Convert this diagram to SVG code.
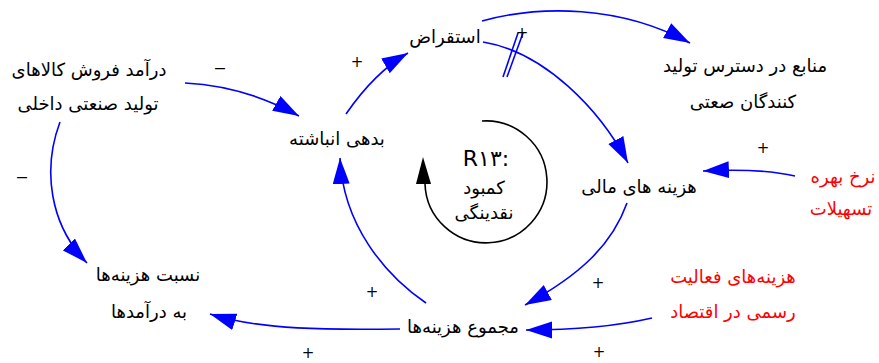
<svg xmlns="http://www.w3.org/2000/svg" width="879" height="363" viewBox="0 0 879 363">
<style>
text{font-family:"DejaVu Sans","Noto Sans",sans-serif;font-size:18px;fill:#000;text-anchor:middle}
.red{fill:#ff0000}
.sign{font-size:15px}
.minus{font-family:"Liberation Sans",sans-serif;font-size:18px}
.link{fill:none;stroke:#0000ff;stroke-width:1.6}
</style>
<defs>
<marker id="ah" markerUnits="userSpaceOnUse" markerWidth="27" markerHeight="18" refX="26" refY="8.5" orient="auto">
<path d="M0,0 L26,8.5 L0,17 z" fill="#0000ff"/>
</marker>
</defs>
<rect width="879" height="363" fill="#fff"/>
<g id="connectors">
<path class="link" d="M185,83 Q245,86 299,116" marker-end="url(#ah)"/>
<path class="link" d="M60,122 C42,170 50,225 87,263" marker-end="url(#ah)"/>
<path class="link" d="M346,114 Q375,72 408,53" marker-end="url(#ah)"/>
<path class="link" d="M482,21 C540,5 620,5 690,43" marker-end="url(#ah)"/>
<path class="link" d="M483,42 C545,52 600,110 628,163" marker-end="url(#ah)"/>
<line x1="503" y1="77" x2="518" y2="33" stroke="#0000ff" stroke-width="1.6"/>
<line x1="507" y1="77" x2="523" y2="33" stroke="#0000ff" stroke-width="1.6"/>
<path class="link" d="M795,176 Q760,168 703,171" marker-end="url(#ah)"/>
<path class="link" d="M627,203 C612,245 580,275 525,305" marker-end="url(#ah)"/>
<path class="link" d="M652,318 Q600,330 526,330" marker-end="url(#ah)"/>
<path class="link" d="M426,303 C385,275 343,225 340,158" marker-end="url(#ah)"/>
<path class="link" d="M400,329 C330,330 260,330 210,314" marker-end="url(#ah)"/>
<text class="minus" x="220" y="73">–</text>
<text class="minus" x="22" y="182">–</text>
<text class="sign" x="357" y="67">+</text>
<text class="sign" x="522" y="38">+</text>
<text class="sign" x="763" y="153">+</text>
<text class="sign" x="598" y="288">+</text>
<text class="sign" x="599" y="357">+</text>
<text class="sign" x="372" y="297">+</text>
<text class="sign" x="308" y="358">+</text>
</g>
<g id="loop">
<path d="M482,121 A61,61 0 1 1 425,184" fill="none" stroke="#000" stroke-width="1.6"/>
<polygon points="423,157 416,184 431,184" fill="#000"/>
<text x="486" y="166" style="font-size:22px">R۱۳:</text>
<text x="484" y="194">کمبود</text>
<text x="484" y="219">نقدینگی</text>
</g>
<g id="n-revenue">
<text x="89" y="76">درآمد فروش کالاهای</text>
<text x="88" y="110">تولید صنعتی داخلی</text>
</g>
<g id="n-debt"><text x="337" y="145">بدهی انباشته</text></g>
<g id="n-borrow"><text x="445" y="43">استقراض</text></g>
<g id="n-resources">
<text x="745" y="72">منابع در دسترس تولید</text>
<text x="743" y="108">کنندگان صعتی</text>
</g>
<g id="n-fincost"><text x="639" y="193">هزینه های مالی</text></g>
<g id="n-interest">
<text class="red" x="843" y="183">نرخ بهره</text>
<text class="red" x="841" y="215">تسهیلات</text>
</g>
<g id="n-ratio">
<text x="148" y="281">نسبت هزینه‌ها</text>
<text x="149" y="318">به درآمدها</text>
</g>
<g id="n-total"><text x="463" y="333">مجموع هزینه‌ها</text></g>
<g id="n-formal">
<text class="red" x="733" y="283">هزینه‌های فعالیت</text>
<text class="red" x="733" y="318">رسمی در اقتصاد</text>
</g>
</svg>
